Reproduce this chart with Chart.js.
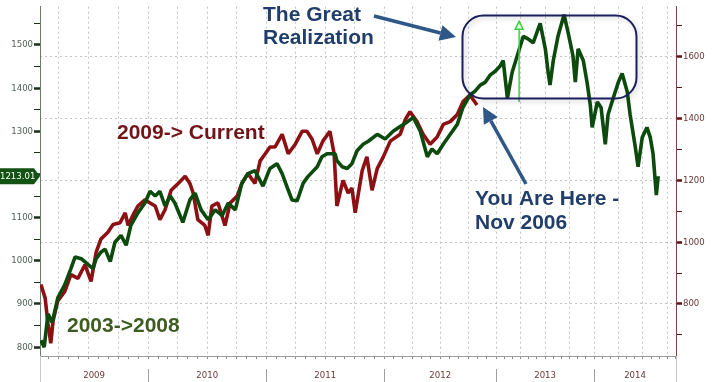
<!DOCTYPE html>
<html>
<head>
<meta charset="utf-8">
<script src="https://cdn.jsdelivr.net/npm/chart.js@4.4.1/dist/chart.umd.min.js"></script>
<style>
  html, body { margin: 0; padding: 0; background: #fff; }
  #wrap { width: 718px; height: 382px; position: relative; }
</style>
</head>
<body>
<div id="wrap"><canvas id="chartSpx"></canvas></div>
<script>
// x axis: trading days from the first point of the chart
const yearLabels = ['2009', '2010', '2011', '2012', '2013', '2014'];
const yearStartDays = [-25, 231, 483, 735, 974, 1183, 1392];
const dayMin = 0;
const dayMax = 1358;

const leftTickLabels = [800, 900, 1000, 1100, 1200, 1300, 1400, 1500];
const rightTickLabels = [800, 1000, 1200, 1400, 1600];

// 2003->2008 (left axis)
const greenDays = [2, 9, 17, 26, 38, 53, 66, 75, 88, 103, 113, 120, 130, 139, 150, 160, 173, 184, 194, 209,
  224, 235, 246, 256, 267, 278, 288, 305, 320, 331, 344, 359, 374, 389, 402, 417, 431, 444, 459, 476,
  491, 506, 517, 530, 538, 549, 562, 572, 592, 602, 613, 630, 634, 645, 656, 666, 677, 690, 701, 720,
  737, 754, 769, 782, 797, 812, 827, 837, 848, 861, 876, 891, 903, 918, 929, 940, 951, 961, 972, 983,
  989, 998, 1008, 1021, 1032, 1042, 1053, 1062, 1068, 1079, 1085, 1089, 1096, 1106, 1119, 1128, 1138, 1143, 1149, 1160,
  1168, 1175, 1179, 1190, 1198, 1207, 1213, 1224, 1235, 1243, 1254, 1260, 1271, 1277, 1286, 1296, 1303, 1309, 1316, 1320];
const greenValues = [816, 800, 877, 857, 914, 945, 982, 1009, 1005, 991, 982, 1005, 1020, 1027, 998, 1043, 1059, 1036, 1082, 1111,
  1134, 1161, 1150, 1161, 1127, 1150, 1134, 1089, 1141, 1157, 1118, 1095, 1118, 1105, 1134, 1118, 1180, 1202, 1209, 1173,
  1214, 1225, 1202, 1164, 1141, 1139, 1180, 1195, 1218, 1241, 1248, 1248, 1232, 1218, 1214, 1225, 1255, 1270, 1277, 1293,
  1282, 1300, 1311, 1320, 1332, 1300, 1241, 1259, 1248, 1270, 1293, 1316, 1355, 1384, 1393, 1407, 1414, 1430, 1439, 1452,
  1464, 1377, 1436, 1482, 1520, 1514, 1505, 1532, 1550, 1491, 1436, 1407, 1464, 1520, 1570, 1527, 1475, 1414, 1491, 1464,
  1414, 1361, 1309, 1368, 1355, 1270, 1339, 1377, 1414, 1434, 1391, 1339, 1264, 1218, 1286, 1309, 1286, 1248, 1152, 1196];

// 2009-> Current (right axis)
const redDays = [2, 11, 17, 23, 28, 38, 53, 66, 81, 96, 109, 120, 130, 145, 156, 171, 182, 188, 199, 209,
  224, 235, 246, 256, 267, 280, 295, 310, 320, 327, 337, 352, 359, 367, 380, 395, 406, 421, 431, 444,
  459, 470, 481, 491, 502, 517, 530, 545, 560, 570, 581, 592, 604, 619, 628, 634, 647, 658, 666, 673,
  688, 698, 709, 720, 733, 748, 769, 780, 790, 805, 818, 833, 848, 861, 876, 891, 903, 918, 933];
const redValues = [863, 819, 737, 673, 746, 810, 841, 895, 883, 927, 873, 968, 1010, 1032, 1057, 1063, 1095, 1054, 1089, 1117,
  1137, 1127, 1117, 1073, 1105, 1168, 1190, 1213, 1190, 1159, 1073, 1054, 1022, 1117, 1127, 1054, 1127, 1149, 1190, 1222,
  1190, 1263, 1286, 1308, 1308, 1349, 1286, 1317, 1359, 1359, 1333, 1286, 1327, 1359, 1286, 1117, 1200, 1159, 1175, 1095,
  1232, 1276, 1168, 1238, 1276, 1327, 1349, 1397, 1422, 1390, 1349, 1317, 1340, 1381, 1390, 1413, 1454, 1476, 1444];

const lastTag = '1213.01';
const markerDay = 1023;
const markerLow = 1368;
const markerHigh = 1550;

// monthly tick marks, dotted grid every quarter
const monthTicks = [];
const quarterTicks = [];
for (let i = 0; i < yearLabels.length; i++) {
  const len = yearStartDays[i + 1] - yearStartDays[i];
  for (let m = 0; m < 12; m++) {
    const d = yearStartDays[i] + m * len / 12;
    if (d < dayMin || d > dayMax) continue;
    monthTicks.push(d);
    if (m % 3 === 0) quarterTicks.push(d);
  }
}
const leftTickValues = leftTickLabels.flatMap(v => [v, v + 50]);
const rightTickValues = rightTickLabels.flatMap(v => [v - 100, v]).concat([1700]);

const toPoints = (xs, ys) => xs.map((x, i) => ({ x: x, y: ys[i] }));

function arrow(ctx, x1, y1, x2, y2) {
  const ang = Math.atan2(y2 - y1, x2 - x1);
  const hl = 16, hw = 8;
  const bx = x2 - hl * Math.cos(ang), by = y2 - hl * Math.sin(ang);
  ctx.lineWidth = 3.5;
  ctx.beginPath();
  ctx.moveTo(x1, y1);
  ctx.lineTo(bx, by);
  ctx.stroke();
  ctx.beginPath();
  ctx.moveTo(x2, y2);
  ctx.lineTo(bx + hw * Math.sin(ang), by - hw * Math.cos(ang));
  ctx.lineTo(bx - hw * Math.sin(ang), by + hw * Math.cos(ang));
  ctx.closePath();
  ctx.fill();
}

function roundBox(ctx, x, y, w, h, r) {
  ctx.beginPath();
  ctx.moveTo(x + r, y);
  ctx.lineTo(x + w - r, y);
  ctx.arcTo(x + w, y, x + w, y + r, r);
  ctx.lineTo(x + w, y + h - r);
  ctx.arcTo(x + w, y + h, x + w - r, y + h, r);
  ctx.lineTo(x + r, y + h);
  ctx.arcTo(x, y + h, x, y + h - r, r);
  ctx.lineTo(x, y + r);
  ctx.arcTo(x, y, x + r, y, r);
  ctx.closePath();
}

const decor = {
  id: 'decor',
  afterDraw(chart) {
    const { ctx, chartArea, scales } = chart;
    const sx = scales.x, yL = scales.yL;
    ctx.save();

    // year row under the axis
    ctx.strokeStyle = '#a0a0a0';
    ctx.lineWidth = 1;
    ctx.font = '9.5px "DejaVu Sans Condensed"';
    ctx.fillStyle = '#6e3535';
    ctx.textAlign = 'center';
    ctx.textBaseline = 'middle';
    yearLabels.forEach((lab, i) => {
      const a = Math.max(yearStartDays[i], sx.min);
      const b = Math.min(yearStartDays[i + 1], sx.max);
      ctx.fillText(lab, (sx.getPixelForValue(a) + sx.getPixelForValue(b)) / 2, chartArea.bottom + 20);
      if (i > 0) {
        const px = Math.round(sx.getPixelForValue(yearStartDays[i])) + 0.5;
        ctx.beginPath();
        ctx.moveTo(px, chartArea.bottom + 13);
        ctx.lineTo(px, chartArea.bottom + 26);
        ctx.stroke();
      }
    });
    ctx.strokeStyle = '#c8c8c8';
    [chartArea.left, chartArea.right].forEach(px => {
      ctx.beginPath();
      ctx.moveTo(Math.round(px) + 0.5, chartArea.bottom);
      ctx.lineTo(Math.round(px) + 0.5, 382);
      ctx.stroke();
    });

    // green event marker
    const mx = sx.getPixelForValue(markerDay);
    const my1 = yL.getPixelForValue(markerLow), my2 = yL.getPixelForValue(markerHigh);
    ctx.strokeStyle = '#3fd23f';
    ctx.lineWidth = 1.5;
    ctx.beginPath();
    ctx.moveTo(mx, my1);
    ctx.lineTo(mx, my2 + 5);
    ctx.stroke();
    ctx.fillStyle = '#effcef';
    ctx.beginPath();
    ctx.moveTo(mx, my2 - 2);
    ctx.lineTo(mx + 4, my2 + 6);
    ctx.lineTo(mx - 4, my2 + 6);
    ctx.closePath();
    ctx.fill();
    ctx.stroke();

    // rounded box with soft shadow
    ctx.save();
    ctx.shadowColor = 'rgba(0,0,0,0.22)';
    ctx.shadowBlur = 5;
    ctx.shadowOffsetX = 2;
    ctx.shadowOffsetY = 2;
    ctx.strokeStyle = '#1b1f5c';
    ctx.lineWidth = 2;
    roundBox(ctx, 462.5, 15.5, 174, 83, 21);
    ctx.stroke();
    ctx.restore();

    // arrows
    ctx.strokeStyle = '#2e5787';
    ctx.fillStyle = '#2e5787';
    arrow(ctx, 374, 16, 456, 37);
    arrow(ctx, 526, 184, 483, 107);

    // labels
    ctx.textAlign = 'left';
    ctx.textBaseline = 'alphabetic';
    ctx.font = 'bold 21px "Liberation Sans"';
    ctx.fillStyle = '#203e69';
    ctx.fillText('The Great', 263, 20.5);
    ctx.fillText('Realization', 263, 43.5);
    ctx.fillText('You Are Here -', 475, 204.5);
    ctx.fillText('Nov 2006', 475, 228.5);
    ctx.fillStyle = '#731518';
    ctx.fillText('2009-> Current', 117, 138.5);
    ctx.fillStyle = '#3e5c22';
    ctx.fillText('2003->2008', 67, 331.5);

    // last value tag on left axis
    const ty = yL.getPixelForValue(greenValues[greenValues.length - 1]);
    ctx.fillStyle = '#125212';
    ctx.beginPath();
    ctx.moveTo(0, ty - 8);
    ctx.lineTo(34, ty - 8);
    ctx.lineTo(40, ty);
    ctx.lineTo(34, ty + 8);
    ctx.lineTo(0, ty + 8);
    ctx.closePath();
    ctx.fill();
    ctx.fillStyle = '#ffffff';
    ctx.font = '9.5px "DejaVu Sans Condensed"';
    ctx.textBaseline = 'middle';
    ctx.fillText(lastTag, 0, ty + 0.5);
    ctx.restore();
  }
};

new Chart(document.getElementById('chartSpx'), {
  type: 'line',
  data: {
    datasets: [
      {
        label: '2003->2008',
        data: toPoints(greenDays, greenValues),
        yAxisID: 'yL',
        borderColor: '#0d4a0d',
        borderWidth: 3.6,
        borderJoinStyle: 'bevel',
        pointRadius: 0,
        tension: 0
      },
      {
        label: '2009-> Current',
        data: toPoints(redDays, redValues),
        yAxisID: 'yR',
        borderColor: '#8b1114',
        borderWidth: 3.6,
        borderJoinStyle: 'bevel',
        pointRadius: 0,
        tension: 0
      }
    ]
  },
  options: {
    responsive: true,
    maintainAspectRatio: false,
    animation: false,
    layout: { padding: 0 },
    plugins: { legend: { display: false }, tooltip: { enabled: false } },
    scales: {
      x: {
        type: 'linear',
        min: dayMin,
        max: dayMax,
        afterBuildTicks: s => { s.ticks = monthTicks.map(v => ({ value: v })); },
        afterFit: s => { s.height = 26; },
        ticks: { display: false },
        grid: {
          color: c => (c.tick && quarterTicks.includes(c.tick.value)) ? '#c4c4c4' : 'rgba(0,0,0,0)',
          tickColor: '#8a8a8a',
          tickLength: 3
        },
        border: { color: '#9a9a9a', dash: [2, 3] }
      },
      yL: {
        position: 'left',
        min: 779.5,
        max: 1588.6,
        afterBuildTicks: s => { s.ticks = leftTickValues.map(v => ({ value: v })); },
        afterFit: s => { s.width = 40; },
        ticks: {
          callback: v => leftTickLabels.includes(v) ? String(v) : '',
          color: '#4f6156',
          font: { family: 'DejaVu Sans Condensed', size: 9.5 },
          padding: 1
        },
        grid: {
          drawOnChartArea: false,
          tickLength: 6,
          tickColor: '#1c2e1c',
          tickWidth: c => (c.tick && leftTickLabels.includes(c.tick.value)) ? 2.5 : 1
        },
        border: { color: '#6a7b6a' }
      },
      yR: {
        position: 'right',
        min: 631.7,
        max: 1761.9,
        afterBuildTicks: s => { s.ticks = rightTickValues.map(v => ({ value: v })); },
        afterFit: s => { s.width = 42; },
        ticks: {
          callback: v => rightTickLabels.includes(v) ? String(v) : '',
          color: '#6e3535',
          font: { family: 'DejaVu Sans Condensed', size: 9.5 },
          padding: 1
        },
        grid: {
          color: c => (c.tick && rightTickLabels.includes(c.tick.value)) ? '#c4c4c4' : 'rgba(0,0,0,0)',
          tickLength: 6,
          tickColor: '#5a1515',
          tickWidth: c => (c.tick && rightTickLabels.includes(c.tick.value)) ? 2.5 : 1
        },
        border: { color: '#7d4545', dash: [2, 3] }
      }
    }
  },
  plugins: [decor]
});
</script>
</body>
</html>
